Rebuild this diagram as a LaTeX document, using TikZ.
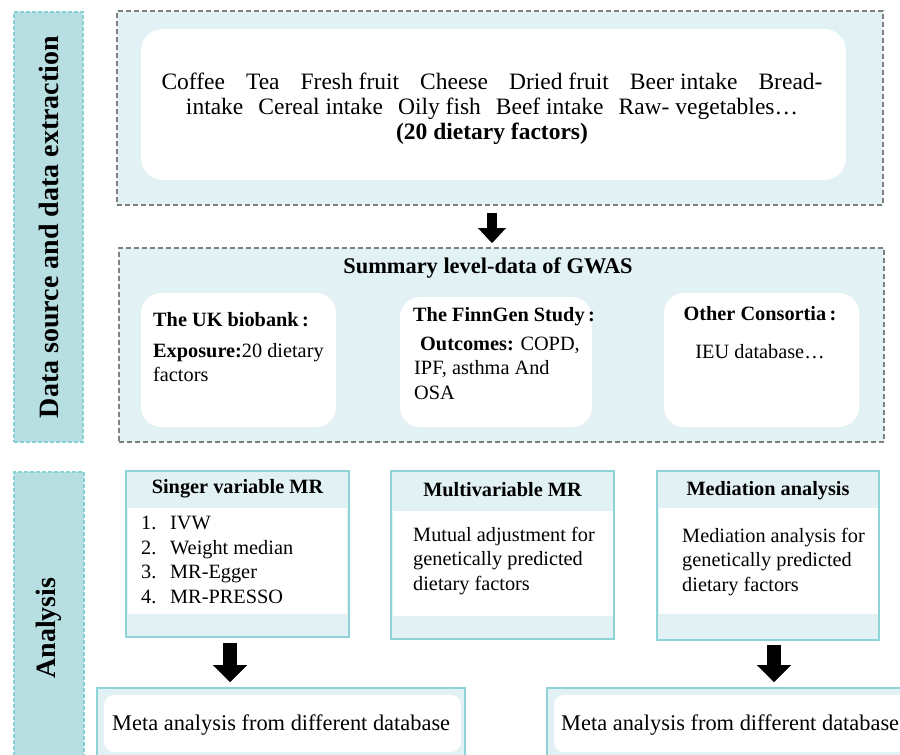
\documentclass[tikz,border=0pt]{standalone}
\usepackage{fontspec}
\setmainfont{Liberation Serif}
\newfontfamily\rotfont{Liberation Serif}
\usetikzlibrary{arrows.meta,calc}
\definecolor{labfill}{HTML}{B7DEE1}
\definecolor{labline}{HTML}{86D3D6}
\definecolor{panel}{HTML}{E2F1F3}
\definecolor{dashgrey}{HTML}{7F7F7F}
\definecolor{tealline}{HTML}{8ED4D7}
\newcommand\gp{\hspace{21pt}}
\newcommand\gq{\hspace{15pt}}
\begin{document}
\begin{tikzpicture}[x=1pt,y=-1pt,
  box/.style={anchor=north west,inner sep=0pt,outer sep=0pt},
  labbox/.style={box,draw=labline,fill=labfill,dash pattern=on 4pt off 2pt,line width=1.3pt},
  panelbox/.style={box,draw=dashgrey,fill=panel,dash pattern=on 5pt off 3pt,line width=1.6pt},
  whitebox/.style={box,fill=white,rounded corners=22pt},
  anabox/.style={box,draw=tealline,fill=panel,line width=1.6pt},
  anawhite/.style={box,fill=white},
  rottext/.style={rotate=90,font=\rotfont\bfseries\fontsize{28}{30}\selectfont},
  toptext/.style={font=\fontsize{23.5}{25}\selectfont,align=center},
  bodytext/.style={font=\fontsize{20.3}{24.5}\selectfont,align=left,anchor=west,inner sep=0pt},
  titletext/.style={font=\bfseries\fontsize{20.3}{22}\selectfont,inner sep=0pt},
  metatext/.style={font=\fontsize{22.4}{25}\selectfont,anchor=west,inner sep=0pt},
]
\useasboundingbox (0,0) rectangle (900,755);

% left labels
\node[labbox,minimum width=69pt,minimum height=430pt] (labA) at (14,12) {};
\node[rottext] (labAt) at (labA.center) {Data source and data extraction};
\node[labbox,minimum width=70pt,minimum height=300pt] (labB) at (14,472) {};
\node[rottext] (labBt) at (48.5,628) {Analysis};

% top panel
\node[panelbox,minimum width=766pt,minimum height=194pt] (outer1) at (117,11) {};
\node[whitebox,minimum width=705pt,minimum height=151pt] (inner1) at (141,29) {};
\node[toptext] (diet) at (492,109) {Coffee\gp Tea\gp Fresh fruit\gp Cheese\gp Dried fruit\gp Beer intake\gp Bread-\\
intake\gq Cereal intake\gq Oily fish\gq Beef intake\gq Raw- vegetables…\\
\textbf{(20 dietary factors)}};

% second panel
\node[panelbox,minimum width=765pt,minimum height=194pt] (outer2) at (119,248) {};
\node[font=\bfseries\fontsize{22.4}{24}\selectfont,inner sep=0pt] (gwas) at (488,268) {Summary level-data of GWAS};
\node[whitebox,rounded corners=20pt,minimum width=195pt,minimum height=134pt] (b1) at (141,293) {};
\node[whitebox,rounded corners=20pt,minimum width=192pt,minimum height=130pt] (b2) at (400,297) {};
\node[whitebox,rounded corners=20pt,minimum width=195pt,minimum height=134pt] (b3) at (664,293) {};
\node[titletext,anchor=west] (b1t) at (153,320) {The UK biobank\,:};
\node[bodytext] (b1b) at (153,362.5) {\textbf{Exposure:}20 dietary\\factors};
\node[titletext,anchor=west] (b2t) at (413,317) {The FinnGen Study\,:};
\node[bodytext] (b2b) at (414,368) {\hspace{6pt}\textbf{Outcomes:} COPD,\\IPF, asthma And\\OSA};
\node[titletext] (b3t) at (760,314) {Other Consortia\,:};
\node[font=\fontsize{20.3}{24}\selectfont,inner sep=0pt] (b3b) at (760,352) {IEU database…};

% analysis boxes
\node[anabox,minimum width=223pt,minimum height=166pt] (s1) at (126,471) {};
\node[anawhite,minimum width=219pt,minimum height=106pt] (s1w) at (127.5,508) {};
\node[titletext] (s1t) at (237.5,489) {Singer variable MR};
\node[bodytext] (s1b) at (141,560) {\makebox[29pt][l]{1.}IVW\\\makebox[29pt][l]{2.}Weight median\\\makebox[29pt][l]{3.}MR-Egger\\\makebox[29pt][l]{4.}MR-PRESSO};

\node[anabox,minimum width=223pt,minimum height=168pt] (s2) at (391,471) {};
\node[anawhite,minimum width=220pt,minimum height=105pt] (s2w) at (392.5,511) {};
\node[titletext] (s2t) at (502.5,490) {Multivariable MR};
\node[bodytext] (s2b) at (413,561) {Mutual adjustment for\\genetically predicted\\dietary factors};

\node[anabox,minimum width=222pt,minimum height=169pt] (s3) at (657,471) {};
\node[anawhite,minimum width=219pt,minimum height=106pt] (s3w) at (658.5,508) {};
\node[titletext] (s3t) at (768,491) {Mediation analysis};
\node[bodytext] (s3b) at (682,562) {Mediation analysis for\\genetically predicted\\dietary factors};

% meta boxes
\node[anabox,minimum width=368pt,minimum height=90pt] (mL) at (97,688) {};
\node[whitebox,rounded corners=10pt,minimum width=357pt,minimum height=57pt] (mLw) at (104,695) {};
\node[metatext] (mLt) at (112,725) {Meta analysis from different database};
\node[anabox,minimum width=400pt,minimum height=90pt] (mR) at (547,688) {};
\node[whitebox,rounded corners=10pt,minimum width=400pt,minimum height=57pt] (mRw) at (554,695) {};
\node[metatext] (mRt) at (561,725) {Meta analysis from different database};

% arrows
\draw[line width=10pt,-{Triangle[width=28pt,length=15pt,line width=0.01pt]},shorten >=5pt]
  ([xshift=-8pt,yshift=-8pt]outer1.south) -- ([xshift=-8pt]outer1.south |- outer2.north);
\draw[line width=14pt,-{Triangle[width=34pt,length=17pt,line width=0.01pt]},shorten >=6pt]
  ([xshift=-7.5pt,yshift=-6pt]s1.south) -- ([xshift=-7.5pt]s1.south |- mL.north);
\draw[line width=14pt,-{Triangle[width=34pt,length=17pt,line width=0.01pt]},shorten >=6pt]
  ([xshift=6pt,yshift=-5pt]s3.south) -- ([xshift=6pt]s3.south |- mR.north);
\end{tikzpicture}
\end{document}
